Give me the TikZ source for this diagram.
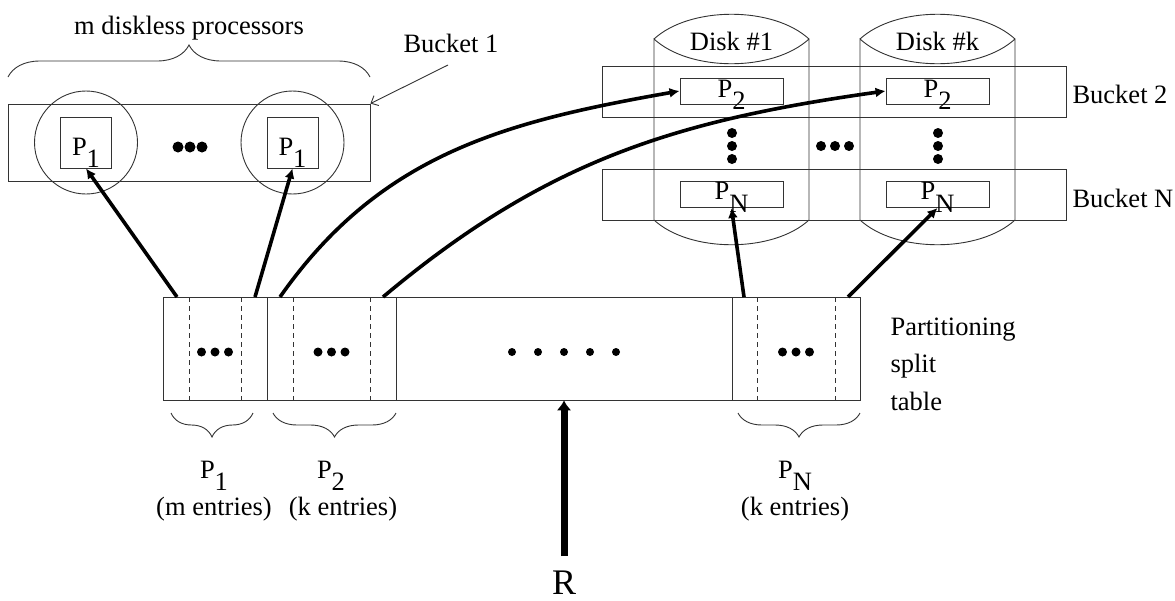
\documentclass[tikz,border=0pt]{standalone}
\usepackage{fontspec}
\setmainfont{Liberation Serif}
\usetikzlibrary{arrows.meta,decorations.pathreplacing,positioning}

\newcommand{\Pidx}[1]{P\raisebox{-0.48em}{#1}}

\tikzset{
  outline/.style={draw=black!80, line width=0.9pt},
  pbox/.style={outline, rectangle, inner sep=0pt},
  bucket/.style={outline, rectangle, inner sep=0pt},
  cpu/.style={outline, circle, inner sep=0pt, minimum size=103pt},
  feed/.style={line width=3.6pt, -{Latex[length=10pt,width=10pt]}},
  curly/.style={outline, decorate, decoration={brace, amplitude=#1}},
  curly below/.style={outline, decorate, decoration={brace, mirror, amplitude=#1}},
}

\begin{document}
\begin{tikzpicture}[x=1pt, y=1pt, font=\fontsize{26.5}{30}\selectfont]
  \useasboundingbox (0,0) rectangle (1175,-600);

  % Bucket 1: the diskless processors
  \node[anchor=base] (mlabel) at (189,-34) {m diskless processors};
  \draw[curly=32pt] (8,-77) -- (370,-77);
  \node[bucket, minimum width=362pt, minimum height=77pt] (bucket1) at (189,-142.5) {};
  \node[cpu] (cpu1) at (86,-142.5) {};
  \node[cpu] (cpum) at (292.5,-142.5) {};
  \node[pbox, minimum size=51pt] (p1a) at (cpu1) {};
  \node[pbox, minimum size=51pt] (p1b) at (cpum) {};
  \node[anchor=base] at ([yshift=-12.5pt]p1a.center) {\Pidx{1}};
  \node[anchor=base] at ([yshift=-12.5pt]p1b.center) {\Pidx{1}};
  \foreach \x in {178,190,202} \fill (\x,-147) circle (5.5pt);

  \node[anchor=base west] (b1label) at (400,-52) {Bucket 1};
  \coordinate (b1tail) at (448,-65);
  \draw[outline, -{Straight Barb[length=6pt,width=11pt]}] (b1tail) -- (bucket1.north east);

  % Disks
  \foreach \x/\d in {654/1, 860/k} {
    \draw[outline] (\x,-39) .. controls ({\x+36},-6) and ({\x+119},-6) .. ({\x+155},-39)
      .. controls ({\x+119},-72) and ({\x+36},-72) .. (\x,-39) -- (\x,-220)
      .. controls ({\x+36},-253) and ({\x+119},-253) .. ({\x+155},-220) -- ({\x+155},-39);
    \node[anchor=base] (disk\d) at ({\x+77.5},-50) {Disk \#\d};
  }

  % Buckets 2 .. N
  \node[bucket, minimum width=464pt, minimum height=51pt] (bucket2) at (834,-91.5) {};
  \node[bucket, minimum width=464pt, minimum height=51pt] (bucketN) at (834,-194.5) {};
  \node[anchor=base west] at (1069,-103) {Bucket 2};
  \node[anchor=base west] at (1069,-207) {Bucket N};

  \node[pbox, minimum width=103pt, minimum height=26pt] (p2a) at (731.5,-91) {};
  \node[pbox, minimum width=103pt, minimum height=26pt] (p2b) at (937.5,-91) {};
  \node[pbox, minimum width=103pt, minimum height=26pt] (pNa) at (731.5,-194.5) {};
  \node[pbox, minimum width=103pt, minimum height=26pt] (pNb) at (937.5,-194.5) {};
  \node[anchor=base] at ([yshift=-6pt]p2a.center) {\Pidx{2}};
  \node[anchor=base] at ([yshift=-6pt]p2b.center) {\Pidx{2}};
  \node[anchor=base] at ([yshift=-5pt]pNa.center) {\Pidx{N}};
  \node[anchor=base] at ([yshift=-5pt]pNb.center) {\Pidx{N}};

  \foreach \y in {133,146,159} {
    \fill (732,-\y) circle (5pt);
    \fill (938,-\y) circle (5pt);
  }
  \foreach \x in {821,835,849} \fill (\x,-146) circle (5pt);

  % Partitioning split table
  \node[pbox, minimum width=697pt, minimum height=103pt] (table) at (511.5,-348.5) {};
  \foreach \x in {267,396,732} \draw[outline] (\x,-297) -- (\x,-400);
  \foreach \x in {189,241,293,370,757,835}
    \draw[outline, dash pattern=on 5pt off 4pt] (\x,-297) -- (\x,-400);
  \foreach \c in {215,331.5,796}
    \foreach \d in {-13.5,0,13.5} \fill ({\c+\d},-352) circle (4.5pt);
  \foreach \x in {512,538,564,590,616} \fill (\x,-352) circle (4pt);

  \node[anchor=base west] at (887,-335) {Partitioning};
  \node[anchor=base west] at (887,-372) {split};
  \node[anchor=base west] at (887,-410) {table};

  \draw[curly below=24pt] (171,-413) -- (253,-413);
  \draw[curly below=24pt] (273,-413) -- (396,-413);
  \draw[curly below=24pt] (738,-413) -- (860,-413);
  \node[anchor=base] at (214,-478) {\Pidx{1}};
  \node[anchor=base] at (214,-515) {(m entries)};
  \node[anchor=base] at (331,-478) {\Pidx{2}};
  \node[anchor=base] at (343,-515) {(k entries)};
  \node[anchor=base] at (795,-478) {\Pidx{N}};
  \node[anchor=base] at (795,-515) {(k entries)};

  % Connect table entries to processors
  \coordinate (e1) at (177,-297);
  \coordinate (e2) at (255,-297);
  \coordinate (e3) at (280,-297);
  \coordinate (e4) at (383,-297);
  \coordinate (e5) at (744,-297);
  \coordinate (e6) at (848,-297);
  \draw[feed] (e1) -- (p1a.south);
  \draw[feed] (e2) -- (p1b.south);
  \draw[feed] (e3) to[out=55, in=190] (p2a.west);
  \draw[feed] (e4) to[out=40, in=188] (p2b.west);
  \draw[feed] (e5) -- (pNa.south);
  \draw[feed] (e6) -- (pNb.south);

  % Input relation
  \node[anchor=base, font=\fontsize{36}{40}\selectfont, inner sep=1pt] (R) at (564,-594) {R};
  \draw[line width=7pt, -{Latex[length=10pt,width=15pt]}] ([yshift=13pt]R.north) -- (R.north |- table.south);
\end{tikzpicture}
\end{document}
